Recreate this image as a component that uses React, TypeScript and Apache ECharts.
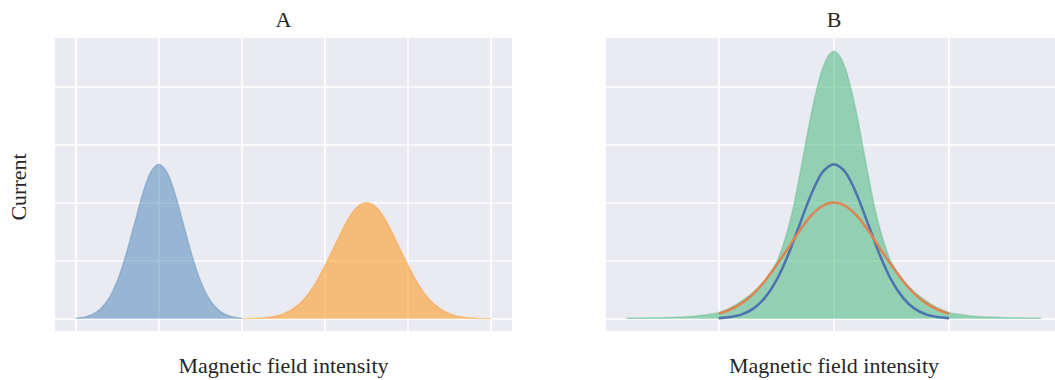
import React, { useEffect, useRef } from "react";
import * as echarts from "echarts";

// ---- texts ----
const panelTitles = ["A", "B"];
const xAxisLabel = "Magnetic field intensity";
const yAxisLabel = "Current";

// ---- panel A data ----
const aBlueX = [0, 0.1, 0.2, 0.3, 0.4, 0.5, 0.6, 0.7, 0.8, 0.9, 1.0, 1.1, 1.2, 1.3, 1.4, 1.5, 1.6, 1.7, 1.8, 1.9, 2.0];
const aBlueY = [0.01, 0.03, 0.076, 0.175, 0.36, 0.66, 1.09, 1.61, 2.13, 2.52, 2.66, 2.52, 2.13, 1.61, 1.09, 0.66, 0.36, 0.175, 0.076, 0.03, 0.01];

const aOrangeX = [2.0, 2.1, 2.2, 2.3, 2.4, 2.5, 2.6, 2.7, 2.8, 2.9, 3.0, 3.1, 3.2, 3.3, 3.4, 3.5, 3.6, 3.7, 3.8, 3.9, 4.0, 4.1, 4.2, 4.3, 4.4, 4.5, 4.6, 4.7, 4.8, 4.9, 5.0];
const aOrangeY = [0.002, 0.004, 0.01, 0.022, 0.046, 0.088, 0.16, 0.27, 0.43, 0.65, 0.92, 1.21, 1.51, 1.77, 1.94, 2.0, 1.94, 1.77, 1.51, 1.21, 0.92, 0.65, 0.43, 0.27, 0.16, 0.088, 0.046, 0.022, 0.01, 0.004, 0.002];

// ---- panel B data ----
const bGreenX = [-1.8, -1.7, -1.6, -1.5, -1.4, -1.3, -1.2, -1.1, -1.0, -0.9, -0.8, -0.7, -0.6, -0.5, -0.45, -0.4, -0.35, -0.3, -0.25, -0.2, -0.15, -0.1, -0.05, 0, 0.05, 0.1, 0.15, 0.2, 0.25, 0.3, 0.35, 0.4, 0.45, 0.5, 0.6, 0.7, 0.8, 0.9, 1.0, 1.1, 1.2, 1.3, 1.4, 1.5, 1.6, 1.7, 1.8];
const bGreenY = [0.011, 0.013, 0.016, 0.02, 0.027, 0.035, 0.05, 0.075, 0.11, 0.19, 0.31, 0.46, 0.66, 0.97, 1.22, 1.55, 1.95, 2.45, 2.98, 3.5, 3.95, 4.3, 4.52, 4.6, 4.52, 4.3, 3.95, 3.5, 2.98, 2.45, 1.95, 1.55, 1.22, 0.97, 0.66, 0.46, 0.31, 0.19, 0.11, 0.075, 0.05, 0.035, 0.027, 0.02, 0.016, 0.013, 0.011];

const bLineX = [-1.0, -0.9, -0.8, -0.7, -0.6, -0.5, -0.4, -0.3, -0.2, -0.1, 0, 0.1, 0.2, 0.3, 0.4, 0.5, 0.6, 0.7, 0.8, 0.9, 1.0];
const bBlueY = [0.01, 0.03, 0.076, 0.175, 0.36, 0.66, 1.09, 1.61, 2.13, 2.52, 2.66, 2.52, 2.13, 1.61, 1.09, 0.66, 0.36, 0.175, 0.076, 0.03, 0.01];
const bOrangeY = [0.088, 0.16, 0.27, 0.43, 0.65, 0.92, 1.21, 1.51, 1.77, 1.94, 2.0, 1.94, 1.77, 1.51, 1.21, 0.92, 0.65, 0.43, 0.27, 0.16, 0.088];

const pair = (xs: number[], ys: number[]) => xs.map((x, i) => [x, ys[i]]);

const FONT = '"Liberation Serif", serif';
const TEXT_COLOR = "#262626";
const FS = 22;

export default function App() {
  const ref = useRef<HTMLDivElement>(null);

  useEffect(() => {
    if (!ref.current) return;
    const chart = echarts.init(ref.current, undefined, { renderer: "svg" });

    const gridLine = { show: true, lineStyle: { color: "#ffffff", width: 1.6 }, showMinLine: false, showMaxLine: false };
    const baseAxis = {
      type: "value" as const,
      axisLine: { show: false },
      axisTick: { show: false },
      axisLabel: { show: false },
      splitLine: gridLine,
      minInterval: 1,
      maxInterval: 1,
    };

    const fillSeries = (name: string, data: number[][], rgb: string, xi: number) => ({
      name,
      type: "line",
      xAxisIndex: xi,
      yAxisIndex: xi,
      data,
      smooth: 0.3,
      showSymbol: false,
      symbol: "none",
      lineStyle: { color: `rgba(${rgb},0.3)`, width: 1.5 },
      areaStyle: { color: `rgba(${rgb},0.5)`, opacity: 1 },
      z: 2,
    });

    const lineSeries = (name: string, data: number[][], color: string, z: number) => ({
      name,
      type: "line",
      xAxisIndex: 1,
      yAxisIndex: 1,
      data,
      smooth: 0.3,
      showSymbol: false,
      symbol: "none",
      lineStyle: { color, width: 2.5 },
      z,
    });

    const txt = (text: string, x: number, y: number, rotation = 0) => ({
      type: "text",
      x,
      y,
      rotation,
      style: { text, fontFamily: FONT, fontSize: FS, fill: TEXT_COLOR, align: "center", verticalAlign: "middle" },
    });

    chart.setOption({
      animation: false,
      backgroundColor: "#ffffff",
      grid: [
        { left: 55, top: 38, width: 457, height: 293, show: true, backgroundColor: "#eaeaf2", borderWidth: 0 },
        { left: 606, top: 38, width: 449, height: 293, show: true, backgroundColor: "#eaeaf2", borderWidth: 0 },
      ],
      xAxis: [
        { ...baseAxis, gridIndex: 0, min: -0.25, max: 5.25 },
        { ...baseAxis, gridIndex: 1, min: -1.98, max: 1.92 },
      ],
      yAxis: [
        { ...baseAxis, gridIndex: 0, min: -0.21, max: 4.83 },
        { ...baseAxis, gridIndex: 1, min: -0.21, max: 4.83 },
      ],
      series: [
        fillSeries("A1", pair(aBlueX, aBlueY), "70,130,180", 0),
        fillSeries("A2", pair(aOrangeX, aOrangeY), "255,140,0", 0),
        fillSeries("B0", pair(bGreenX, bGreenY), "60,179,113", 1),
        lineSeries("B1", pair(bLineX, bBlueY), "#4c72b0", 3),
        lineSeries("B2", pair(bLineX, bOrangeY), "#dd8452", 4),
      ],
      graphic: [
        txt(panelTitles[0], 283.5, 19),
        txt(panelTitles[1], 834, 19),
        txt(xAxisLabel, 283.5, 365),
        txt(xAxisLabel, 834, 365),
        txt(yAxisLabel, 18, 187, Math.PI / 2),
      ],
    });

    return () => chart.dispose();
  }, []);

  return <div ref={ref} style={{ position: "absolute", left: 0, top: 0, width: 1055, height: 380 }} />;
}
